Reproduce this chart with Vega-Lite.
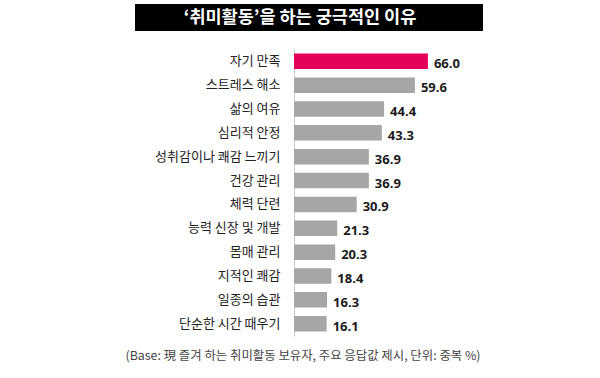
{
  "$schema": "https://vega.github.io/schema/vega-lite/v6.json",
  "background": "white",
  "padding": {"left": 125, "top": 4, "right": 5, "bottom": 5},
  "spacing": 18,
  "bounds": "flush",
  "config": {"view": {"stroke": null}, "font": "Noto Sans CJK KR"},
  "vconcat": [
    {
      "width": 348,
      "height": 27,
      "view": {"fill": "black", "stroke": null},
      "data": {"values": [{"t": "‘취미활동’을 하는 궁극적인 이유"}]},
      "mark": {"type": "text", "color": "white", "fontSize": 17.5, "fontWeight": "bold", "font": "Noto Sans CJK KR", "baseline": "middle", "align": "center", "dx": -9},
      "encoding": {"text": {"field": "t", "type": "nominal"}}
    },
    {
      "width": 348,
      "height": 287,
      "data": {"values": [
        {"item": "자기 만족", "value": 66.0},
        {"item": "스트레스 해소", "value": 59.6},
        {"item": "삶의 여유", "value": 44.4},
        {"item": "심리적 안정", "value": 43.3},
        {"item": "성취감이나 쾌감 느끼기", "value": 36.9},
        {"item": "건강 관리", "value": 36.9},
        {"item": "체력 단련", "value": 30.9},
        {"item": "능력 신장 및 개발", "value": 21.3},
        {"item": "몸매 관리", "value": 20.3},
        {"item": "지적인 쾌감", "value": 18.4},
        {"item": "일종의 습관", "value": 16.3},
        {"item": "단순한 시간 때우기", "value": 16.1}
      ]},
      "encoding": {
        "y": {
          "field": "item", "type": "nominal", "sort": null,
          "scale": {"paddingInner": 0.35, "paddingOuter": 0.19},
          "axis": {"title": null, "ticks": false, "offset": -159, "domainColor": "#c8c8c8", "domainWidth": 1, "labelFontSize": 13, "labelColor": "#222222", "labelPadding": 14, "labelFont": "Noto Sans CJK KR", "grid": false}
        },
        "x": {
          "field": "value", "type": "quantitative",
          "scale": {"domain": [0, 70], "range": [159, 301]},
          "axis": {"labels": false, "ticks": false, "domain": false, "grid": false,
                   "title": "(Base: 現 즐겨 하는 취미활동 보유자, 주요 응답값 제시, 단위: 중복 %)",
                   "titleFontSize": 12.4, "titleFontWeight": "normal", "titleColor": "#444444",
                   "titleX": -10, "titleY": 19, "titleAlign": "left", "titleBaseline": "middle", "titleFont": "Noto Sans CJK KR"}
        }
      },
      "layer": [
        {
          "mark": {"type": "bar"},
          "encoding": {
            "color": {"condition": {"test": "datum.item === '자기 만족'", "value": "#e5005a"}, "value": "#a6a6a6"}
          }
        },
        {
          "mark": {"type": "text", "align": "left", "baseline": "middle", "dx": 6, "dy": 3, "fontWeight": "bold", "fontSize": 13, "color": "#1a1a1a", "font": "Open Sans"},
          "encoding": {"text": {"field": "value", "type": "quantitative", "format": ".1f"}}
        }
      ]
    }
  ]
}
